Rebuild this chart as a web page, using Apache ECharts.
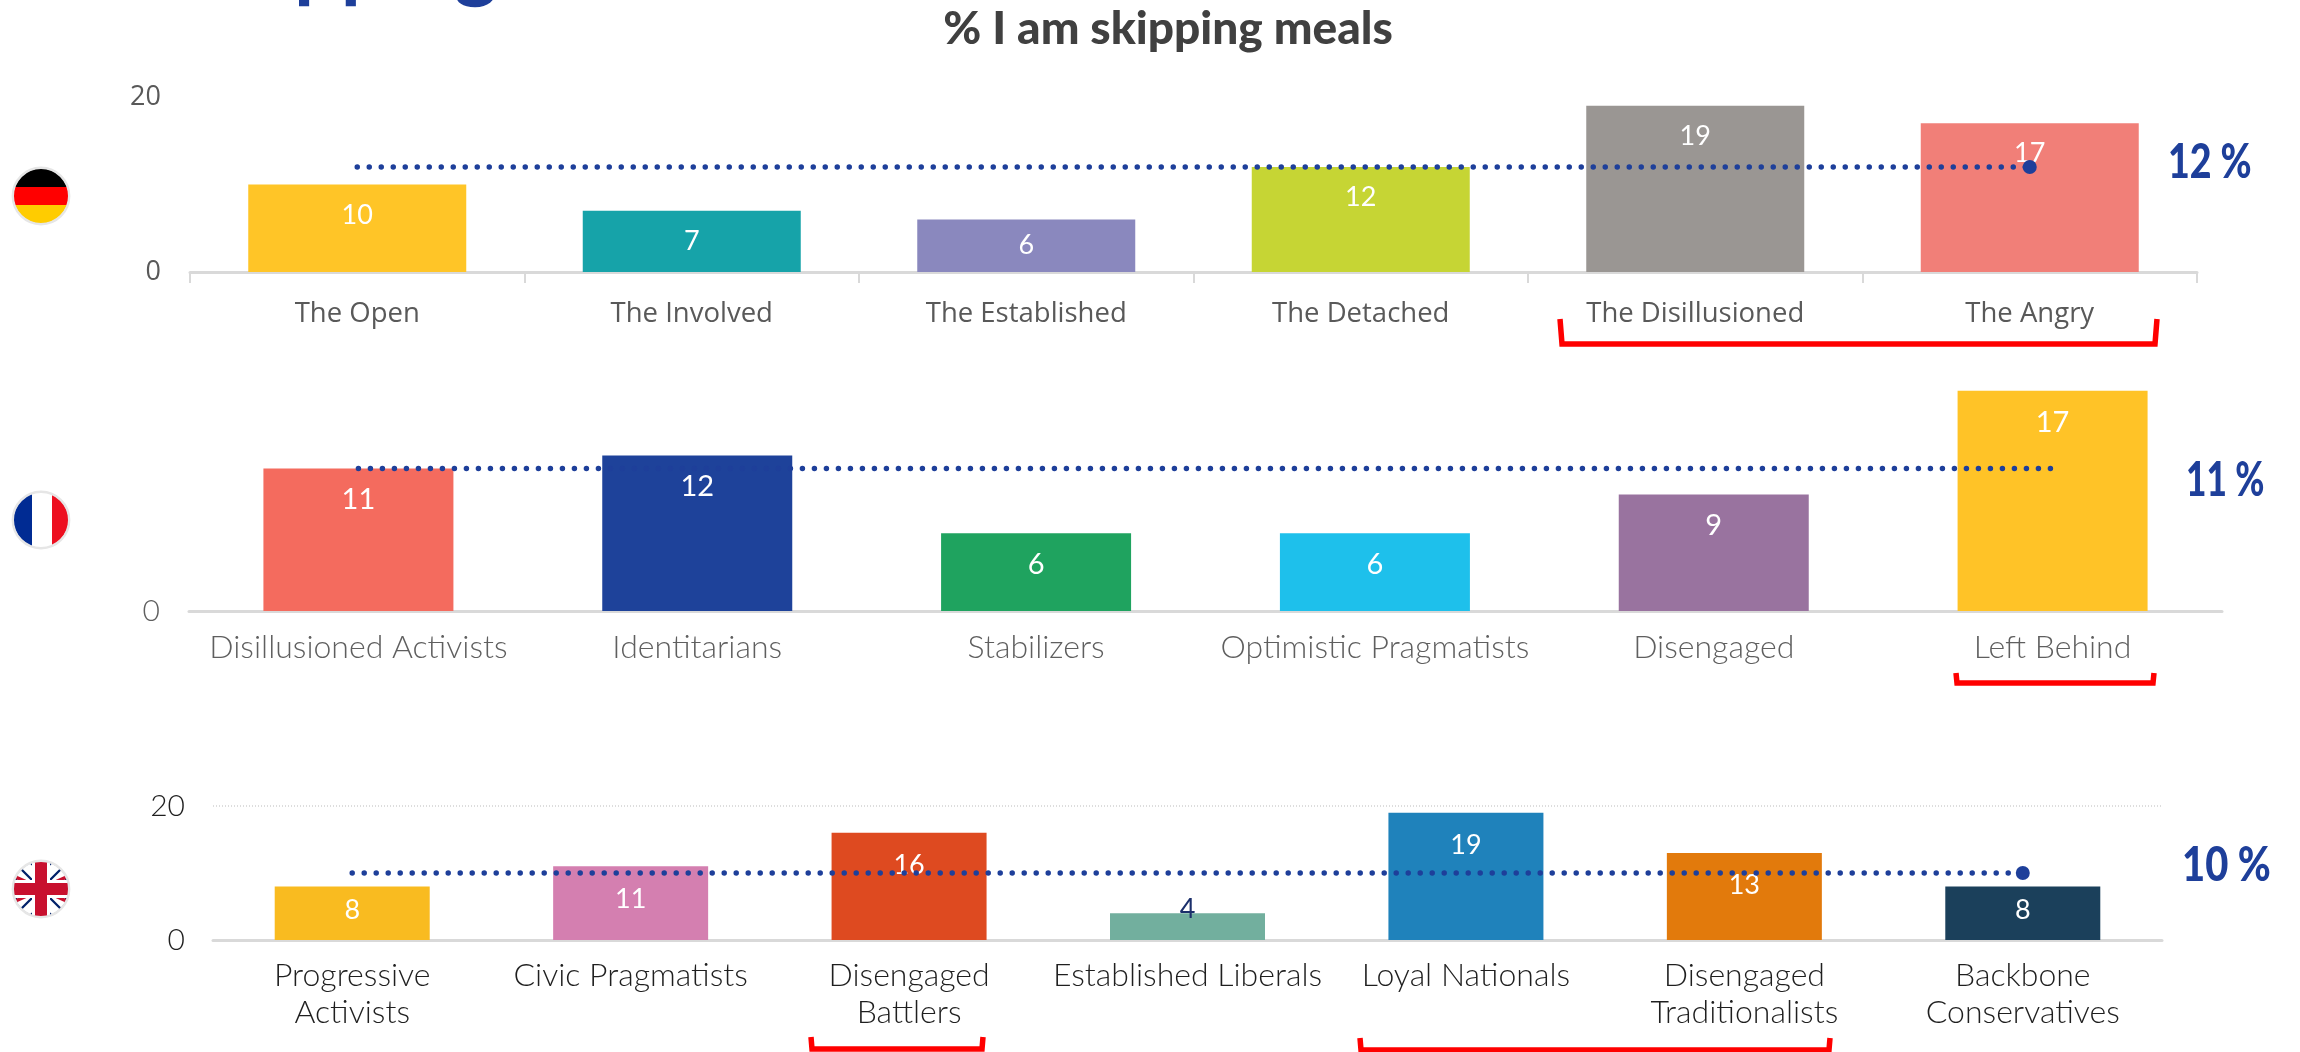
<!DOCTYPE html>
<html><head><meta charset="utf-8">
<style>html,body{margin:0;padding:0;background:#fff}#c{width:2300px;height:1052px}</style>
<script src="https://cdn.jsdelivr.net/npm/echarts@6/dist/echarts.min.js"></script>
</head><body><div id="c"></div>
<script>
const catsDE = ['The Open','The Involved','The Established','The Detached','The Disillusioned','The Angry'];
const valsDE = [10,7,6,12,19,17];
const avgDE = [12,12,12,12,12,12];
const colorsDE = ['#FFC527','#16A3A9','#8A88BE','#C6D534','#9A9693','#F17F78'];
const catsFR = ['Disillusioned Activists','Identitarians','Stabilizers','Optimistic Pragmatists','Disengaged','Left Behind'];
const valsFR = [11,12,6,6,9,17];
const avgFR = [11,11,11,11,11,11];
const colorsFR = ['#F46B5E','#1E429A','#1FA35F','#1EC0EB','#99739F','#FFC327'];
const catsUK = ['Progressive\nActivists','Civic Pragmatists','Disengaged\nBattlers','Established Liberals','Loyal Nationals','Disengaged\nTraditionalists','Backbone\nConservatives'];
const valsUK = [8,11,16,4,19,13,8];
const avgUK = [10,10,10,10,10,10,10];
const colorsUK = ['#F9BB20','#D47FB0','#DE4A20','#72AF9E','#1F82BB','#E27A0C','#1B405B'];
const ticksDE = [0,20], ticksFR = [0], ticksUK = [0,20];
const title = '% I am skipping meals';
const headline = 'Skipping';
const totals = ['12 %','11 %','10 %'];

const NAVY = '#1E3F9A', AX = '#D9D9D9';
const grids = [
  {left:190,width:2007,top:97,height:175},
  {left:189,width:2033,top:352,height:259},
  {left:213,width:1949,top:806,height:134}
];
const panels = [
 {c:catsDE,v:valsDE,a:avgDE,col:colorsDE,t:ticksDE,bw:218,fam:'"Open Sans"',size:27.5,color:'#595959',weight:400,lf:27,margin:24,lblD:17,end:true,yc:'#595959',yw:400,ticks:true,split:false,yM:29,over:{2:[0,-5]}},
 {c:catsFR,v:valsFR,a:avgFR,col:colorsFR,t:ticksFR,bw:190,fam:'Lato',size:32,color:'#5F5F5F',weight:300,lf:29,margin:18.5,lblD:17,end:false,yc:'#5F5F5F',yw:300,ticks:false,split:false,yM:29,over:{}},
 {c:catsUK,v:valsUK,a:avgUK,col:colorsUK,t:ticksUK,bw:155,fam:'Lato',size:32,color:'#1F1F1F',weight:300,lf:27,margin:17,lblD:19,end:true,yc:'#1F1F1F',yw:300,ticks:false,split:true,yM:28,over:{0:[0,-9],3:[0,-36],6:[0,-9]},lblColor:{3:'#1B2F6B'}}
];
const xAxis=[],yAxis=[],series=[];
panels.forEach((p,i)=>{
  xAxis.push({type:'category',gridIndex:i,data:p.c,
    axisLine:{show:true,lineStyle:{color:AX,width:3}},
    axisTick:{show:p.ticks,length:11,lineStyle:{color:AX,width:2}},
    axisLabel:{interval:0,hideOverlap:false,margin:p.margin,fontFamily:p.fam,fontSize:p.size,fontWeight:p.weight,color:p.color,lineHeight:37}});
  yAxis.push({type:'value',gridIndex:i,min:0,max:20,interval:20,
    axisLine:{show:false},axisTick:{show:false},
    splitLine:{show:p.split,lineStyle:{color:'#DDDDDD',type:[1,2],width:2}},
    axisLabel:{customValues:p.t,margin:p.yM,fontFamily:p.fam==='Lato'?'Lato':'"Open Sans"',fontSize:p.fam==='Lato'?30:27,fontWeight:p.yw,color:p.yc}});
  series.push({type:'bar',xAxisIndex:i,yAxisIndex:i,barWidth:p.bw,z:2,
    data:p.v.map((v,k)=>({value:v,itemStyle:{color:p.col[k]},
      label:{offset:p.over[k]||[0,0],color:(p.lblColor&&p.lblColor[k])||'#fff'}})),
    label:{show:true,position:'insideTop',distance:p.lblD,fontFamily:'Lato',fontSize:p.lf,color:'#fff'}});
  const last=p.a.length-1;
  series.push({type:'line',xAxisIndex:i,yAxisIndex:i,data:p.a,z:3,silent:true,
    showSymbol:true,showAllSymbol:true,symbol:'circle',
    symbolSize:(v,q)=>(p.end&&q.dataIndex===last)?14:0,
    itemStyle:{color:NAVY},
    lineStyle:{color:NAVY,width:5.5,type:[0,12],cap:'round'}});
});
const svg=s=>'data:image/svg+xml;utf8,'+encodeURIComponent('<svg xmlns="http://www.w3.org/2000/svg" width="60" height="60" viewBox="0 0 60 60"><defs><clipPath id="k"><circle cx="30" cy="30" r="27.5"/></clipPath></defs><g clip-path="url(#k)">'+s+'</g><circle cx="30" cy="30" r="28.2" fill="none" stroke="#E6E6E6" stroke-width="2.4"/></svg>');
const flagDE=svg('<rect width="60" height="21" fill="#000"/><rect y="21" width="60" height="18.5" fill="#F00"/><rect y="39" width="60" height="21" fill="#FFCC00"/>');
const flagFR=svg('<rect width="21" height="60" fill="#002B93"/><rect x="21" width="21" height="60" fill="#fff"/><rect x="41" width="19" height="60" fill="#ED0F20"/>');
const flagUK=svg('<rect width="60" height="60" fill="#012169"/><path d="M0 8L52 60M60 8L8 60M0 52L52 0M60 52L8 0" stroke="#fff" stroke-width="9"/><path d="M0 16L18 24M60 16L42 24M0 44L18 36M60 44L42 36" stroke="#C8102E" stroke-width="3.5"/><rect x="21" width="18" height="60" fill="#fff"/><rect y="21" width="60" height="18" fill="#fff"/><rect x="24" width="12" height="60" fill="#C8102E"/><rect y="24" width="60" height="12" fill="#C8102E"/>');
const bracket=(pts)=>({type:'polyline',z:10,shape:{points:pts},style:{stroke:'#FF0000',lineWidth:5.5,fill:null}});
const pct=(t,x,y,sx)=>({type:'text',x,y,scaleX:sx,z:10,style:{text:t,fill:NAVY,font:'900 47px Lato',textAlign:'left',textVerticalAlign:'middle'}});
const flag=(img,cy)=>({type:'image',x:11,y:cy-30,z:10,style:{image:img,width:60,height:60}});
const option={animation:false,backgroundColor:'#fff',grid:grids,xAxis,yAxis,series,
 graphic:[
  {type:'text',x:185,y:7,z:10,style:{text:headline,fill:NAVY,font:'bold 82px Lato',textVerticalAlign:'bottom'}},
  {type:'text',x:1168,y:29,z:10,style:{text:title,fill:'#404040',font:'900 46px Lato',textAlign:'center',textVerticalAlign:'middle'}},
  pct(totals[0],2168,163,0.8),pct(totals[1],2186,481,0.75),pct(totals[2],2182,866,0.85),
  flag(flagDE,196),flag(flagFR,520),flag(flagUK,889),
  bracket([[1560,319],[1562,344],[2155,344],[2157,319]]),
  bracket([[1956,673],[1957,683],[2153,683],[2154,673]]),
  bracket([[811,1037],[812,1049],[982,1049],[983,1037]]),
  bracket([[1360,1038],[1361,1050],[1829,1050],[1830,1038]])
 ]};
echarts.init(document.getElementById('c'),null,{renderer:'canvas'}).setOption(option);
</script></body></html>
